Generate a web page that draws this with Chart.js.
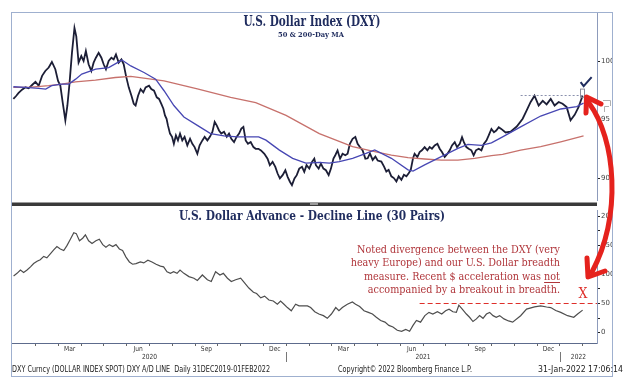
<!DOCTYPE html>
<html>
<head>
<meta charset="utf-8">
<script src="https://cdn.jsdelivr.net/npm/chart.js@4.4.1/dist/chart.umd.min.js"></script>
<style>
  html, body { margin: 0; padding: 0; background: #fff; }
  #wrap { position: relative; width: 626px; height: 384px; overflow: hidden; }
  canvas { position: absolute; left: 0; }
  #top { top: 0; }
  #bot { top: 205px; }
  #over { top: 0; pointer-events: none; }
</style>
</head>
<body>
<div id="wrap">
  <canvas id="top" width="613" height="206"></canvas>
  <canvas id="bot" width="613" height="179"></canvas>
  <canvas id="over" width="626" height="384"></canvas>
</div>
<script>
// x positions are months since 1 Jan 2020 (25 = 1 Feb 2022)
const dxyMonth = [0.03,0.14,0.26,0.41,0.56,0.70,0.85,1.00,1.14,1.29,1.43,1.58,1.72,1.87,1.99,2.09,2.19,2.31,2.40,2.49,
  2.60,2.71,2.79,2.89,3.01,3.11,3.21,3.33,3.45,3.55,3.65,3.77,3.89,3.99,4.09,4.21,4.33,4.43,4.53,4.65,
  4.77,4.87,4.97,5.09,5.21,5.31,5.39,5.50,5.61,5.73,5.83,5.98,6.08,6.20,6.32,6.42,6.52,6.61,6.68,6.75,
  6.81,6.90,6.99,7.07,7.16,7.25,7.34,7.44,7.54,7.66,7.78,7.88,7.98,8.10,8.20,8.32,8.42,8.54,8.65,8.76,
  8.86,8.95,9.05,9.15,9.27,9.39,9.49,9.59,9.71,9.82,9.93,10.03,10.12,10.22,10.32,10.44,10.56,10.66,10.78,10.89,
  11.04,11.18,11.28,11.40,11.52,11.62,11.72,11.84,11.96,12.06,12.16,12.25,12.36,12.46,12.57,12.69,12.79,12.89,13.01,13.13,
  13.23,13.30,13.42,13.52,13.63,13.74,13.86,13.96,14.07,14.15,14.25,14.36,14.47,14.59,14.69,14.79,14.91,15.03,15.13,15.23,
  15.35,15.47,15.57,15.67,15.79,15.91,16.01,16.17,16.29,16.39,16.49,16.61,16.72,16.83,16.93,17.05,17.16,17.27,17.37,17.46,
  17.56,17.63,17.75,17.85,17.95,18.07,18.19,18.29,18.39,18.51,18.63,18.73,18.83,18.95,19.07,19.17,19.27,19.39,19.49,19.61,
  19.71,19.79,19.90,20.00,20.12,20.22,20.32,20.44,20.56,20.67,20.78,20.88,21.00,21.11,21.21,21.32,21.43,21.62,21.84,22.11,
  22.37,22.54,22.72,22.89,23.07,23.25,23.42,23.60,23.77,23.95,24.12,24.30,24.47,24.65,24.82,25.00];
const dxyClose = [96.76,96.99,97.27,97.55,97.75,97.67,97.95,98.22,97.89,98.73,99.15,99.44,99.92,99.30,98.30,97.90,96.50,94.93,96.20,98.03,
  100.70,102.82,102.10,99.86,100.42,100.00,100.85,99.72,99.15,99.86,100.28,100.70,100.28,99.72,99.30,100.00,100.28,100.14,100.56,99.86,
  100.14,99.72,98.73,97.75,97.04,96.34,96.20,97.04,97.60,97.33,97.75,97.89,97.60,97.46,96.90,96.76,96.34,95.92,95.35,95.06,
  94.50,93.80,93.52,92.93,93.65,93.22,93.80,93.22,93.52,92.80,93.36,92.93,92.65,92.08,92.80,93.22,93.52,93.22,93.52,93.95,
  94.80,94.50,94.07,93.80,93.95,93.52,93.80,93.36,93.08,93.52,93.80,94.22,94.37,93.22,92.93,93.08,92.65,92.50,92.50,92.36,
  92.08,91.66,91.10,91.38,90.96,90.39,89.97,90.25,90.67,90.11,89.69,89.40,89.97,90.25,90.81,90.96,90.53,91.10,90.81,91.38,
  91.66,91.10,90.81,91.24,90.81,90.67,90.25,90.81,91.66,91.95,92.36,91.66,92.08,91.95,92.08,92.93,93.36,93.52,92.93,92.65,
  92.36,91.66,91.69,92.11,91.55,91.83,91.50,91.41,90.98,90.56,90.70,90.15,90.00,89.71,90.15,89.85,90.28,90.15,90.42,90.70,
  91.69,92.08,91.80,92.22,92.37,92.65,92.37,92.65,92.51,92.79,92.93,92.51,92.23,91.80,92.08,92.37,92.79,93.07,92.65,92.93,
  93.49,93.07,92.65,92.51,92.37,91.95,92.37,92.51,92.37,92.93,93.21,93.64,94.20,93.92,94.06,94.34,94.20,93.90,93.97,94.40,
  95.07,95.77,96.50,97.04,96.20,96.60,96.30,96.76,96.20,96.50,96.35,96.06,94.93,95.40,96.06,97.04];

const ma50Month = [0.03,0.56,1.14,1.45,1.71,2.15,2.46,2.76,3.03,3.64,4.21,4.79,5.18,5.76,6.27,6.64,7.07,7.51,8.10,8.68,
  9.27,9.86,10.79,11.11,11.70,12.28,12.86,13.45,13.89,14.33,14.91,15.50,15.88,16.61,17.34,17.56,18.07,18.80,19.53,19.97,
  20.56,21.00,21.49,22.28,23.16,24.04,24.74,25.04];
const ma50Value = [97.80,97.75,97.67,97.60,97.89,98.03,98.03,98.45,98.88,99.30,99.44,100.08,99.58,99.02,98.45,97.46,96.20,95.22,94.50,93.80,
  93.60,93.52,93.52,93.24,92.39,91.69,91.27,91.35,91.27,91.41,91.69,92.11,92.40,91.69,90.70,90.60,91.13,91.83,92.54,92.88,
  92.79,93.01,93.52,94.37,95.30,95.90,96.10,96.40];

const ma200Month = [0.03,0.70,1.58,2.16,2.75,3.63,4.50,5.18,6.64,8.10,9.56,10.66,11.99,13.45,14.91,15.88,16.61,17.34,18.07,18.80,
  19.53,20.26,21.00,21.49,22.28,23.16,24.04,25.04];
const ma200Value = [97.75,97.75,97.89,98.03,98.22,98.37,98.59,98.68,98.31,97.61,96.90,96.45,95.35,93.80,92.68,92.26,91.97,91.75,91.63,91.54,
  91.54,91.69,91.92,92.03,92.39,92.68,93.10,93.60];

const adMonth = [0.04,0.19,0.34,0.48,0.63,0.78,0.92,1.07,1.21,1.36,1.50,1.65,1.80,1.94,2.09,2.24,2.38,2.53,2.68,2.79,
  2.93,3.07,3.19,3.33,3.48,3.65,3.80,3.95,4.09,4.24,4.39,4.53,4.68,4.82,4.97,5.12,5.26,5.41,5.60,5.75,
  5.93,6.11,6.29,6.48,6.62,6.77,6.92,7.06,7.21,7.34,7.51,7.73,7.95,8.10,8.32,8.54,8.71,8.90,9.09,9.24,
  9.42,9.59,9.78,10.00,10.18,10.36,10.56,10.70,10.88,11.05,11.24,11.43,11.61,11.75,11.90,12.05,12.22,12.41,12.56,12.75,
  12.93,13.07,13.25,13.43,13.63,13.80,13.98,14.17,14.31,14.46,14.68,14.90,15.04,15.22,15.41,15.60,15.78,15.95,16.14,16.33,
  16.50,16.68,16.87,17.06,17.24,17.41,17.56,17.71,17.89,18.08,18.26,18.43,18.63,18.82,18.99,19.14,19.31,19.46,19.57,19.72,
  19.90,20.04,20.19,20.34,20.48,20.63,20.78,20.92,21.07,21.21,21.36,21.55,21.75,21.93,22.28,22.54,22.89,23.16,23.42,23.60,
  23.82,24.04,24.34,24.61,24.78,25.00];
const adValue = [97.5,101.9,107.6,103.5,107.6,113.1,118.7,122.7,125.4,131.1,128.7,135.5,142.2,147.9,143.9,141.2,149.6,160.7,171.9,170.3,
  158,162.4,168.1,158,153.4,158,160.7,151.3,146.7,151.3,147.9,151.3,143.9,141.2,129.9,121.5,117.6,118.7,121.5,119.8,
  124.4,121.5,117.6,114.3,113.1,104.7,101.9,104.7,101.9,107.6,101.9,96.3,93.5,89.6,99.1,90.8,87.9,104.7,99.1,101.9,
  93.5,87.9,90.8,93.5,85.1,76.6,69.4,67.2,59.8,62.7,56,54.3,48.7,54.3,48.7,43,37.5,48.7,45.9,45.9,
  45.9,43,35.8,31.9,29.1,24.5,31.9,43,37.5,43,48.7,52.6,48.7,44.8,37.5,34.7,31.9,26.3,20.7,17.9,
  12.3,9.5,3.9,2.2,5.5,2.2,12.3,20.7,17.9,29.1,34.7,31.9,35.8,31.9,37.5,40.3,35.8,34.7,47.1,40.3,
  31.9,26.3,19,23.5,29.1,24.5,31.9,34.7,29.1,26.3,29.1,23.5,20,17.9,29,40.3,44.2,45.9,44,43,
  38,34.7,29,26.3,32,38.6];

const dxyTicks = [90, 95, 100];
const adTicks = [0, 25, 50, 75, 100, 125, 150, 175, 200];
const quarterLabels = ['Mar', 'Jun', 'Sep', 'Dec', 'Mar', 'Jun', 'Sep', 'Dec'];
const quarterMonths = [2, 5, 8, 11, 14, 17, 20, 23];
const yearLabels = ['2020', '2021', '2022'];
const yearStarts = [0, 12, 24];

const X_MIN = -0.03, X_MAX = 25.63;
const NAVY = '#1f2c5e';

function pts(ms, vs) { return ms.map((m, i) => ({ x: m, y: vs[i] })); }

// draw text squeezed horizontally to a target width
function fitText(ctx, txt, x, y, w, font, color, align) {
  ctx.save();
  ctx.font = font;
  ctx.fillStyle = color;
  ctx.textBaseline = 'middle';
  ctx.textAlign = align;
  const k = w / ctx.measureText(txt).width;
  ctx.translate(x, y);
  ctx.scale(k, 1);
  ctx.fillText(txt, 0, 0);
  ctx.restore();
  return k;
}

function scaledText(ctx, txt, x, y, k, font, color, align) {
  ctx.save();
  ctx.font = font;
  ctx.fillStyle = color;
  ctx.textBaseline = 'middle';
  ctx.textAlign = align;
  ctx.translate(x, y);
  ctx.scale(k, 1);
  ctx.fillText(txt, 0, 0);
  ctx.restore();
}

const topDecor = {
  id: 'topDecor',
  afterDraw(chart) {
    const ctx = chart.ctx, xs = chart.scales.x, ys = chart.scales.y;
    fitText(ctx, 'U.S. Dollar Index (DXY)', 312, 22, 137, 'bold 14px "DejaVu Serif"', NAVY, 'center');
    fitText(ctx, '50 & 200-Day MA', 311, 35, 66, 'bold 8px "DejaVu Serif"', NAVY, 'center');

    // prior-high reference line
    ctx.save();
    ctx.strokeStyle = '#8a90ad';
    ctx.lineWidth = 1;
    ctx.setLineDash([2, 2]);
    const yh = Math.round(ys.getPixelForValue(97.1)) + 0.5;
    ctx.beginPath();
    ctx.moveTo(xs.getPixelForValue(22.28), yh);
    ctx.lineTo(xs.getPixelForValue(25.0), yh);
    ctx.stroke();
    ctx.restore();

    // last bar range box
    ctx.save();
    ctx.strokeStyle = '#8c8c9c';
    ctx.lineWidth = 1;
    const bx = Math.round(xs.getPixelForValue(24.97)) - 1.5;
    const bt = ys.getPixelForValue(97.6), bb = ys.getPixelForValue(96.9);
    ctx.strokeRect(bx, bt, 4, bb - bt);
    ctx.restore();

    // check mark
    const cx = xs.getPixelForValue(25.0) + 2, cy = ys.getPixelForValue(98.2);
    ctx.save();
    ctx.strokeStyle = NAVY;
    ctx.lineWidth = 2;
    ctx.beginPath();
    ctx.moveTo(cx - 4, cy);
    ctx.lineTo(cx - 1, cy + 4);
    ctx.lineTo(cx + 7, cy - 5);
    ctx.stroke();

    // last value tag outline
    ctx.strokeStyle = '#b0b0b0';
    ctx.lineWidth = 1;
    ctx.beginPath();
    ctx.moveTo(603, 100.5); ctx.lineTo(610.5, 100.5); ctx.lineTo(610.5, 106);
    ctx.moveTo(609, 106.5); ctx.lineTo(604.5, 106.5); ctx.lineTo(604.5, 112);
    ctx.stroke();
    ctx.restore();
  }
};

const botDecor = {
  id: 'botDecor',
  afterDraw(chart) {
    const ctx = chart.ctx, xs = chart.scales.x, ys = chart.scales.y;
    fitText(ctx, 'U.S. Dollar Advance - Decline Line (30 Pairs)', 312, 12, 266, 'bold 13px "DejaVu Serif"', NAVY, 'center');

    const af = '11.5px "DejaVu Serif"', ac = '#b0363b';
    const k = fitText(ctx, 'Noted divergence between the DXY (very', 560, 45, 203, af, ac, 'right');
    scaledText(ctx, 'heavy Europe) and our U.S. Dollar breadth', 560, 58.5, k, af, ac, 'right');
    scaledText(ctx, 'measure. Recent $ acceleration was not', 560, 72, k, af, ac, 'right');
    scaledText(ctx, 'accompanied by a breakout in breadth.', 560, 85.5, k, af, ac, 'right');
    // underline "not"
    ctx.save();
    ctx.font = af;
    const wn = ctx.measureText('not').width * k;
    ctx.strokeStyle = ac;
    ctx.lineWidth = 1;
    ctx.beginPath();
    ctx.moveTo(560 - wn, 77.5);
    ctx.lineTo(560, 77.5);
    ctx.stroke();
    ctx.restore();

    scaledText(ctx, 'X', 583, 89, 0.9, '14px "DejaVu Serif"', '#de2f2a', 'center');

    // breadth resistance line at 50
    ctx.save();
    ctx.strokeStyle = '#de2f2a';
    ctx.lineWidth = 1.2;
    ctx.setLineDash([5, 3]);
    const y50 = ys.getPixelForValue(50);
    ctx.beginPath();
    ctx.moveTo(xs.getPixelForValue(17.85), y50);
    ctx.lineTo(chart.chartArea.right, y50);
    ctx.stroke();
    ctx.restore();

    // month and year labels
    const mf = '7px "DejaVu Sans"';
    quarterLabels.forEach((t, i) => {
      scaledText(ctx, t, xs.getPixelForValue(quarterMonths[i] + 0.5), 144, 0.85, mf, '#333', 'center');
    });
    yearLabels.forEach((t, i) => {
      const a = yearStarts[i], b = Math.min(a + 12, X_MAX);
      scaledText(ctx, t, xs.getPixelForValue((a + b) / 2), 152.5, 0.85, mf, '#333', 'center');
    });
    ctx.save();
    ctx.strokeStyle = '#777';
    ctx.lineWidth = 1;
    yearStarts.slice(1).forEach(m => {
      const px = Math.round(xs.getPixelForValue(m)) + 0.5;
      ctx.beginPath();
      ctx.moveTo(px, 147);
      ctx.lineTo(px, 157);
      ctx.stroke();
    });
    ctx.restore();
  }
};

Chart.defaults.font.family = 'DejaVu Sans';

new Chart(document.getElementById('top'), {
  type: 'line',
  data: {
    datasets: [
      { data: pts(ma50Month, ma50Value), borderColor: '#4747b3', borderWidth: 1.3 },
      { data: pts(ma200Month, ma200Value), borderColor: '#c7716c', borderWidth: 1.3 },
      { data: pts(dxyMonth, dxyClose), borderColor: '#1c1e36', borderWidth: 1.8 }
    ]
  },
  options: {
    responsive: false,
    animation: false,
    elements: { point: { radius: 0 }, line: { tension: 0 } },
    layout: { padding: { left: 12, top: 13, right: 0, bottom: 3 } },
    plugins: { legend: { display: false }, tooltip: { enabled: false } },
    scales: {
      x: { type: 'linear', min: X_MIN, max: X_MAX, display: false },
      y: {
        position: 'right', min: 88.06, max: 104.1,
        afterFit: s => { s.width = 16; },
        afterBuildTicks: s => { s.ticks = dxyTicks.map(v => ({ value: v })); },
        ticks: { font: { size: 7 }, color: '#444', padding: 1, autoSkip: false },
        grid: { drawOnChartArea: false, tickLength: 3, color: '#222' },
        border: { color: '#8d9bbb' }
      }
    }
  },
  plugins: [topDecor]
});

new Chart(document.getElementById('bot'), {
  type: 'line',
  data: {
    datasets: [
      { data: pts(adMonth, adValue), borderColor: '#4e4e4e', borderWidth: 1.2 }
    ]
  },
  options: {
    responsive: false,
    animation: false,
    elements: { point: { radius: 0 }, line: { tension: 0 } },
    layout: { padding: { left: 12, top: 2, right: 0, bottom: 0 } },
    plugins: { legend: { display: false }, tooltip: { enabled: false } },
    scales: {
      x: {
        type: 'linear', min: X_MIN, max: X_MAX,
        afterFit: s => { s.height = 41; },
        afterBuildTicks: s => {
          const t = [];
          for (let m = 1; m <= 25; m++) t.push({ value: m });
          s.ticks = t;
        },
        ticks: { callback: () => '', autoSkip: false, maxRotation: 0 },
        grid: { drawOnChartArea: false, tickLength: 3, color: '#666' },
        border: { color: '#5d6b8c' }
      },
      y: {
        position: 'right', min: -18, max: 210.6,
        afterFit: s => { s.width = 16; },
        afterBuildTicks: s => { s.ticks = adTicks.map(v => ({ value: v })); },
        ticks: { font: { size: 7 }, color: '#444', padding: 1, autoSkip: false,
                 callback: v => (v % 50 === 0 ? String(v) : '') },
        grid: { drawOnChartArea: false, tickLength: 3, color: '#222' },
        border: { color: '#8d9bbb' }
      }
    }
  },
  plugins: [botDecor]
});

// frame, panel separator, arrow and footer
const o = document.getElementById('over').getContext('2d');
o.strokeStyle = '#9fb0cf';
o.lineWidth = 1;
o.strokeRect(11.5, 12.5, 601, 364);
o.fillStyle = '#3a3a3a';
o.fillRect(12, 202.5, 585, 3.5);
o.fillStyle = '#9a9a9a';
o.fillRect(310, 203, 8, 2);

o.strokeStyle = '#e5221d';
o.lineWidth = 5;
o.lineCap = 'round';
o.lineJoin = 'round';
o.beginPath();
o.moveTo(589, 103);
o.bezierCurveTo(616, 140, 622, 215, 592, 272);
o.stroke();
o.beginPath();
o.moveTo(586, 113); o.lineTo(586.5, 97); o.lineTo(601, 104);
o.stroke();
o.beginPath();
o.moveTo(587, 258); o.lineTo(588, 277); o.lineTo(605, 271);
o.stroke();

const ff = '8.5px "DejaVu Sans"';
fitText(o, 'DXY Curncy (DOLLAR INDEX SPOT) DXY A/D LINE  Daily 31DEC2019-01FEB2022', 12, 370, 258, ff, '#222', 'left');
fitText(o, 'Copyright\u00A9 2022 Bloomberg Finance L.P.', 338, 370, 134, ff, '#222', 'left');
fitText(o, '31-Jan-2022 17:06:14', 623, 370, 85, ff, '#222', 'right');
</script>
</body>
</html>
